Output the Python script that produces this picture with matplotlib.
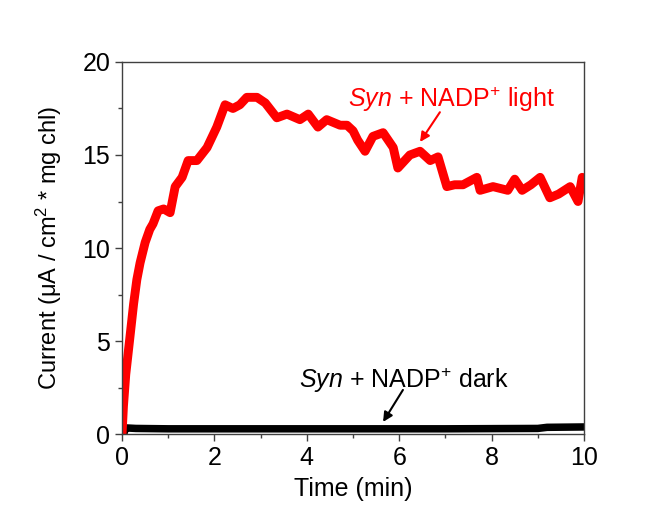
import matplotlib
matplotlib.use("Agg")
import matplotlib.pyplot as plt
from matplotlib.ticker import MultipleLocator

plt.rcParams["font.family"] = ["Liberation Sans", "DejaVu Sans"]
plt.rcParams["mathtext.fontset"] = "custom"
plt.rcParams["mathtext.rm"] = "Liberation Sans"
plt.rcParams["mathtext.it"] = "Liberation Sans:italic"

# light trace: time (min), current (uA / cm2 * mg chl)
t_light = [0.0, 0.03, 0.08, 0.17, 0.25, 0.32, 0.39, 0.5, 0.6, 0.67, 0.78,
           0.9, 1.04, 1.15, 1.3, 1.43, 1.62, 1.84, 2.05, 2.23, 2.4, 2.55,
           2.7, 2.92, 3.1, 3.35, 3.57, 3.85, 4.03, 4.24, 4.43, 4.72, 4.87,
           5.0, 5.1, 5.26, 5.43, 5.65, 5.87, 5.97, 6.23, 6.45, 6.67, 6.84,
           7.03, 7.2, 7.38, 7.68, 7.75, 8.03, 8.35, 8.5, 8.66, 8.85, 9.05,
           9.26, 9.45, 9.7, 9.87, 9.96, 10.0]
i_light = [0.0, 1.5, 3.2, 5.2, 7.0, 8.3, 9.2, 10.3, 11.0, 11.3, 12.0,
           12.1, 11.9, 13.3, 13.8, 14.7, 14.7, 15.4, 16.5, 17.7, 17.5, 17.7,
           18.1, 18.1, 17.8, 17.0, 17.2, 16.9, 17.2, 16.5, 16.9, 16.6, 16.6,
           16.3, 15.8, 15.2, 16.0, 16.2, 15.4, 14.3, 15.0, 15.2, 14.7, 14.9,
           13.3, 13.4, 13.4, 13.8, 13.1, 13.3, 13.1, 13.7, 13.1, 13.4, 13.8,
           12.7, 12.9, 13.3, 12.5, 13.8, 13.5]

# dark trace
t_dark = [0.0, 0.05, 0.07, 0.3, 1.0, 3.0, 5.0, 7.0, 9.0, 9.2, 10.0]
i_dark = [0.0, 0.1, 0.33, 0.3, 0.28, 0.28, 0.28, 0.28, 0.3, 0.36, 0.38]

fig = plt.figure(figsize=(6.67, 5.14), dpi=100)
ax = fig.add_axes([0.183, 0.1556, 0.6926, 0.7238])

ax.plot(t_dark, i_dark, color="black", lw=5.4, solid_capstyle="butt")
ax.plot(t_light, i_light, color="#ff0000", lw=6.4, solid_joinstyle="round")

ax.set_xlim(0, 10)
ax.set_ylim(0, 20)
ax.xaxis.set_major_locator(MultipleLocator(2))
ax.xaxis.set_minor_locator(MultipleLocator(1))
ax.yaxis.set_major_locator(MultipleLocator(5))
ax.yaxis.set_minor_locator(MultipleLocator(2.5))
ax.tick_params(which="both", direction="out", colors="#404040",
               labelcolor="black", labelsize=18, width=1)
ax.tick_params(which="major", length=5)
ax.tick_params(which="minor", length=3)
for s in ax.spines.values():
    s.set_color("#404040")
    s.set_linewidth(1)

ax.set_xlabel("Time (min)", fontsize=18, labelpad=5)
ax.set_ylabel(r"Current ($\mathrm{\mu}$A / cm$^{\mathrm{2}}$ * mg chl)",
              fontsize=17, labelpad=13)

# labels with arrows pointing at each trace
ax.text(7.13, 18.0, r"$\mathit{Syn}$ + NADP$^{\mathrm{+}}$ light", color="#ff0000",
        fontsize=18, ha="center", va="center")
ax.annotate("", xy=(6.45, 15.7), xytext=(6.88, 17.3),
            arrowprops=dict(arrowstyle="-|>", color="#ff0000", lw=1.5,
                            shrinkA=0, shrinkB=0, mutation_scale=14))
ax.text(6.11, 2.9, r"$\mathit{Syn}$ + NADP$^{\mathrm{+}}$ dark", color="black",
        fontsize=18, ha="center", va="center")
ax.annotate("", xy=(5.65, 0.65), xytext=(6.08, 2.37),
            arrowprops=dict(arrowstyle="-|>", color="black", lw=1.5,
                            shrinkA=0, shrinkB=0, mutation_scale=14))

fig.savefig("out.png", dpi=100)
